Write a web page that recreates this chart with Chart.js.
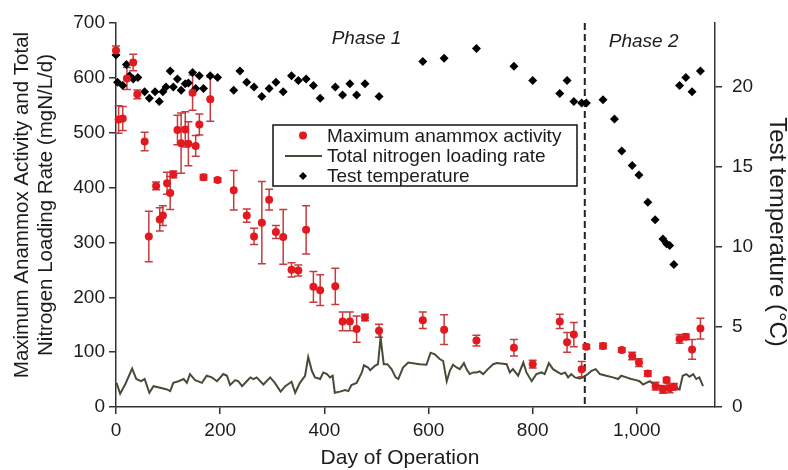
<!DOCTYPE html>
<html>
<head>
<meta charset="utf-8">
<script src="https://cdn.jsdelivr.net/npm/chart.js@4.4.1/dist/chart.umd.min.js"></script>
<style>
    html, body { margin: 0; padding: 0; background: #fff; }
    #wrap { position: relative; width: 788px; height: 470px; }
</style>
</head>
<body>
<div id="wrap"><canvas id="anammoxChart"></canvas></div>
<script>
// Maximum anammox activity (mgN/L/d) with +/- error
var activityDays = [0, 5, 13, 21, 33, 41, 55, 63, 77, 84, 90, 98, 104, 110, 118, 125, 133, 139, 147, 153,
    160, 168, 181, 195, 226, 251, 265, 280, 294, 307, 321, 337, 350, 365, 379, 392, 421, 435, 449, 462,
    478, 505, 589, 630, 692, 764, 800, 852, 866, 879, 894, 903, 935, 971, 991, 1004, 1021, 1036, 1050, 1057,
    1063, 1071, 1082, 1094, 1106, 1122];
var activityValues = [650, 524, 526, 599, 628, 570, 484, 311, 403, 342, 349, 408, 390, 424, 505, 481, 506, 480, 573, 476,
    515, 419, 561, 414, 395, 349, 311, 336, 378, 319, 310, 250, 249, 323, 219, 213, 220, 156, 156, 142,
    163, 139, 158, 141, 121, 108, 78, 156, 118, 132, 69, 110, 111, 104, 93, 81, 61, 38, 32, 49,
    34, 37, 124, 128, 105, 143];
var activityErrors = [8, 25, 22, 20, 15, 8, 17, 46, 7, 21, 18, 20, 30, 6, 27, 55, 32, 40, 32, 19,
    19, 5, 40, 4, 36, 12, 15, 75, 19, 12, 50, 13, 10, 44, 28, 28, 33, 17, 17, 24,
    6, 12, 15, 27, 10, 15, 7, 13, 18, 22, 14, 4, 5, 4, 7, 7, 5, 7, 7, 5,
    8, 6, 8, 5, 18, 19];

// Test temperature (°C)
var tempDays = [0, 3, 13, 20, 26, 33, 42, 55, 64, 75, 83, 90, 96, 104, 110, 118, 125, 133, 139, 147,
    153, 160, 168, 181, 195, 226, 238, 251, 265, 280, 294, 307, 321, 337, 350, 365, 379, 392, 421, 435,
    449, 462, 478, 505, 589, 630, 692, 764, 800, 852, 866, 879, 894, 903, 935, 957, 971, 991, 1004, 1021,
    1035, 1050, 1057, 1063, 1071, 1082, 1094, 1106, 1122];
var tempValues = [22.0, 20.3, 20.1, 21.4, 20.7, 20.5, 20.6, 19.7, 19.3, 19.7, 19.1, 19.7, 20.0, 21.0, 20.0, 20.5, 19.8, 20.2, 20.25, 20.9,
    19.9, 20.7, 19.9, 20.7, 20.6, 19.8, 21.0, 20.3, 20.0, 19.4, 19.9, 20.3, 19.7, 20.7, 20.4, 20.5, 20.1, 19.3, 20.0, 19.5,
    20.2, 19.5, 20.2, 19.4, 21.6, 21.8, 22.4, 21.3, 20.4, 19.6, 20.4, 19.1, 19.0, 19.0, 19.2, 18.0, 16.0, 15.1, 14.5, 12.8,
    11.7, 10.5, 10.2, 10.1, 8.9, 20.1, 20.6, 19.7, 21.0];

// Total nitrogen loading rate (mgN/L/d)
var loadDays = [1, 8, 18, 31, 39, 48, 55, 64, 72, 85, 98, 104, 110, 120, 130, 136, 142, 152, 165, 174,
    184, 194, 206, 213, 219, 229, 235, 242, 251, 258, 264, 270, 283, 296, 305, 316, 325, 337, 344, 353,
    363, 369, 376, 382, 392, 398, 405, 411, 416, 420, 430, 440, 446, 452, 462, 472, 476, 484, 488, 497,
    503, 508, 514, 521, 529, 537, 542, 551, 561, 583, 596, 604, 612, 622, 628, 635, 641, 647, 654, 660,
    668, 673, 679, 686, 692, 698, 705, 714, 724, 731, 743, 750, 756, 762, 772, 782, 788, 798, 807, 817,
    823, 831, 839, 849, 855, 862, 868, 874, 881, 890, 897, 906, 913, 921, 929, 941, 954, 964, 970, 980,
    989, 999, 1005, 1012, 1018, 1025, 1034, 1047, 1057, 1066, 1076, 1082, 1088, 1095, 1101, 1108, 1114, 1120, 1127];
var loadValues = [44, 24, 42, 70, 51, 47, 51, 26, 38, 35, 32, 29, 44, 47, 51, 44, 60, 49, 44, 57,
    54, 47, 60, 57, 40, 49, 47, 38, 47, 54, 51, 54, 41, 54, 44, 28, 38, 46, 26, 44,
    57, 91, 66, 54, 51, 63, 60, 54, 57, 26, 28, 31, 29, 40, 44, 63, 76, 72, 67, 75,
    78, 127, 78, 78, 69, 54, 51, 72, 81, 78, 77, 99, 96, 87, 84, 47, 66, 77, 72, 69,
    80, 69, 60, 63, 63, 65, 60, 69, 78, 80, 79, 78, 63, 69, 57, 81, 63, 47, 60, 63,
    60, 80, 69, 63, 60, 63, 54, 60, 54, 52, 54, 60, 66, 69, 60, 57, 54, 51, 57, 54,
    51, 49, 47, 41, 44, 47, 40, 38, 35, 34, 35, 32, 57, 60, 55, 60, 51, 54, 38];

var xTicks = [0, 200, 400, 600, 800, 1000];
var leftTicks = [0, 100, 200, 300, 400, 500, 600, 700];
var rightTicks = [0, 5, 10, 15, 20];

var phaseBoundary = 900;
var phaseLabels = ['Phase 1', 'Phase 2'];
var phaseCenters = [481, 1013];

var legendLabels = ['Maximum anammox activity', 'Total nitrogen loading rate', 'Test temperature'];
var xTitle = 'Day of Operation';
var leftTitle = ['Maximum Anammox Activity and Total', 'Nitrogen Loading Rate (mgN/L/d)'];
var rightTitle = 'Test temperature (°C)';

var FONT = '"Liberation Sans", Arial, sans-serif';
var RED = '#e2191e';
var ERR = 'rgba(196, 48, 52, 0.95)';
var OLIVE = '#4a4a38';
var INK = '#1c1c1c';
var AXIS = '#333333';

function pairs(xs, ys) {
    return xs.map(function (d, i) { return { x: d, y: ys[i] }; });
}

// Error bars under the red markers
var errorBars = {
    id: 'errorBars',
    beforeDatasetsDraw: function (chart) {
        var ctx = chart.ctx;
        var xs = chart.scales.x, ys = chart.scales.y;
        ctx.save();
        ctx.strokeStyle = ERR;
        ctx.lineWidth = 1.5;
        activityDays.forEach(function (d, i) {
            var px = xs.getPixelForValue(d);
            var top = ys.getPixelForValue(activityValues[i] + activityErrors[i]);
            var bot = ys.getPixelForValue(activityValues[i] - activityErrors[i]);
            ctx.beginPath();
            ctx.moveTo(px, top); ctx.lineTo(px, bot);
            ctx.moveTo(px - 4, top); ctx.lineTo(px + 4, top);
            ctx.moveTo(px - 4, bot); ctx.lineTo(px + 4, bot);
            ctx.stroke();
        });
        ctx.restore();
    }
};

// Phase divider and phase labels
var phases = {
    id: 'phases',
    beforeDatasetsDraw: function (chart) {
        var ctx = chart.ctx, a = chart.chartArea;
        var px = chart.scales.x.getPixelForValue(phaseBoundary);
        ctx.save();
        ctx.strokeStyle = '#222';
        ctx.lineWidth = 2;
        ctx.setLineDash([7, 4]);
        ctx.beginPath();
        ctx.moveTo(px, a.top);
        ctx.lineTo(px, a.bottom);
        ctx.stroke();
        ctx.setLineDash([]);
        ctx.fillStyle = INK;
        ctx.font = 'italic 19px ' + FONT;
        ctx.textAlign = 'center';
        ctx.textBaseline = 'alphabetic';
        ctx.fillText(phaseLabels[0], chart.scales.x.getPixelForValue(phaseCenters[0]), a.top + 21);
        ctx.fillText(phaseLabels[1], chart.scales.x.getPixelForValue(phaseCenters[1]), a.top + 24);
        ctx.restore();
    }
};

// Axis titles, placed like the original figure (not centred on the axes)
var axisTitles = {
    id: 'axisTitles',
    afterDraw: function (chart) {
        var ctx = chart.ctx, a = chart.chartArea;
        ctx.save();
        ctx.fillStyle = INK;
        ctx.textAlign = 'center';
        ctx.textBaseline = 'middle';

        ctx.font = '21px ' + FONT;
        ctx.fillText(xTitle, a.left + 284, a.bottom + 51);

        ctx.font = '20.5px ' + FONT;
        leftTitle.forEach(function (t, i) {
            ctx.save();
            ctx.translate(a.left - 94 + i * 24, a.top + 182);
            ctx.rotate(-Math.PI / 2);
            ctx.fillText(t, 0, 0);
            ctx.restore();
        });

        ctx.font = '24px ' + FONT;
        ctx.translate(a.right + 62, a.top + 209);
        ctx.rotate(Math.PI / 2);
        ctx.fillText(rightTitle, 0, 0);
        ctx.restore();
    }
};

// Boxed legend inside the plot
var legendBox = {
    id: 'legendBox',
    afterDraw: function (chart) {
        var ctx = chart.ctx, a = chart.chartArea;
        var x = a.left + 157, y = a.top + 102, w = 304, h = 61;
        ctx.save();
        ctx.fillStyle = '#fff';
        ctx.fillRect(x, y, w, h);
        ctx.strokeStyle = '#111';
        ctx.lineWidth = 1.5;
        ctx.strokeRect(x, y, w, h);

        var rows = [y + 10.5, y + 31, y + 51];
        var sx = x + 30;

        ctx.fillStyle = RED;
        ctx.beginPath();
        ctx.arc(sx, rows[0], 4, 0, Math.PI * 2);
        ctx.fill();

        ctx.strokeStyle = OLIVE;
        ctx.lineWidth = 2;
        ctx.beginPath();
        ctx.moveTo(x + 12, rows[1]);
        ctx.lineTo(x + 49, rows[1]);
        ctx.stroke();

        ctx.fillStyle = '#000';
        ctx.beginPath();
        ctx.moveTo(sx, rows[2] - 4);
        ctx.lineTo(sx + 4, rows[2]);
        ctx.lineTo(sx, rows[2] + 4);
        ctx.lineTo(sx - 4, rows[2]);
        ctx.closePath();
        ctx.fill();

        ctx.fillStyle = INK;
        ctx.font = '19px ' + FONT;
        ctx.textAlign = 'left';
        ctx.textBaseline = 'middle';
        legendLabels.forEach(function (t, i) {
            ctx.fillText(t, x + 54, rows[i] + 1);
        });
        ctx.restore();
    }
};

function fixedTicks(list) {
    return function (axis) {
        axis.ticks = list.map(function (v) { return { value: v }; });
    };
}

var tickFont = { size: 19, family: FONT };

new Chart(document.getElementById('anammoxChart'), {
    type: 'scatter',
    data: {
        datasets: [{
            label: legendLabels[0],
            data: pairs(activityDays, activityValues),
            yAxisID: 'y',
            backgroundColor: RED,
            borderColor: RED,
            borderWidth: 0,
            pointRadius: 4,
            clip: false,
            order: 0
        }, {
            label: legendLabels[2],
            data: pairs(tempDays, tempValues),
            yAxisID: 'y2',
            pointStyle: 'rectRot',
            backgroundColor: '#000',
            borderColor: '#000',
            borderWidth: 0,
            pointRadius: 4.5,
            clip: false,
            order: 1
        }, {
            label: legendLabels[1],
            type: 'line',
            data: pairs(loadDays, loadValues),
            yAxisID: 'y',
            borderColor: OLIVE,
            borderWidth: 2,
            pointRadius: 0,
            tension: 0,
            fill: false,
            order: 2
        }]
    },
    options: {
        responsive: true,
        maintainAspectRatio: false,
        animation: false,
        layout: { padding: { top: 23, left: 0, right: 0, bottom: 0 } },
        plugins: {
            legend: { display: false },
            tooltip: { enabled: false }
        },
        scales: {
            x: {
                type: 'linear',
                position: 'bottom',
                min: 0,
                max: 1150,
                afterBuildTicks: fixedTicks(xTicks),
                afterFit: function (s) { s.height = 63; },
                border: { display: true, color: AXIS, width: 1.5 },
                grid: { drawOnChartArea: false, drawTicks: true, tickLength: 7, color: AXIS, lineWidth: 1.5 },
                ticks: {
                    color: INK, font: tickFont, padding: 5, maxRotation: 0,
                    callback: function (v) { return v.toLocaleString('en-US'); }
                }
            },
            y: {
                type: 'linear',
                position: 'left',
                min: 0,
                max: 700,
                afterBuildTicks: fixedTicks(leftTicks),
                afterFit: function (s) { s.width = 116; },
                border: { display: true, color: AXIS, width: 1.5 },
                grid: { drawOnChartArea: false, drawTicks: true, tickLength: 7, color: AXIS, lineWidth: 1.5 },
                ticks: { color: INK, font: tickFont, padding: 4 }
            },
            y2: {
                type: 'linear',
                position: 'right',
                min: 0,
                max: 24,
                afterBuildTicks: fixedTicks(rightTicks),
                afterFit: function (s) { s.width = 73; },
                border: { display: true, color: AXIS, width: 1.5 },
                grid: { drawOnChartArea: false, drawTicks: true, tickLength: 7, color: AXIS, lineWidth: 1.5 },
                ticks: { color: INK, font: tickFont, padding: 10 }
            }
        }
    },
    plugins: [errorBars, phases, axisTitles, legendBox]
});
</script>
</body>
</html>
